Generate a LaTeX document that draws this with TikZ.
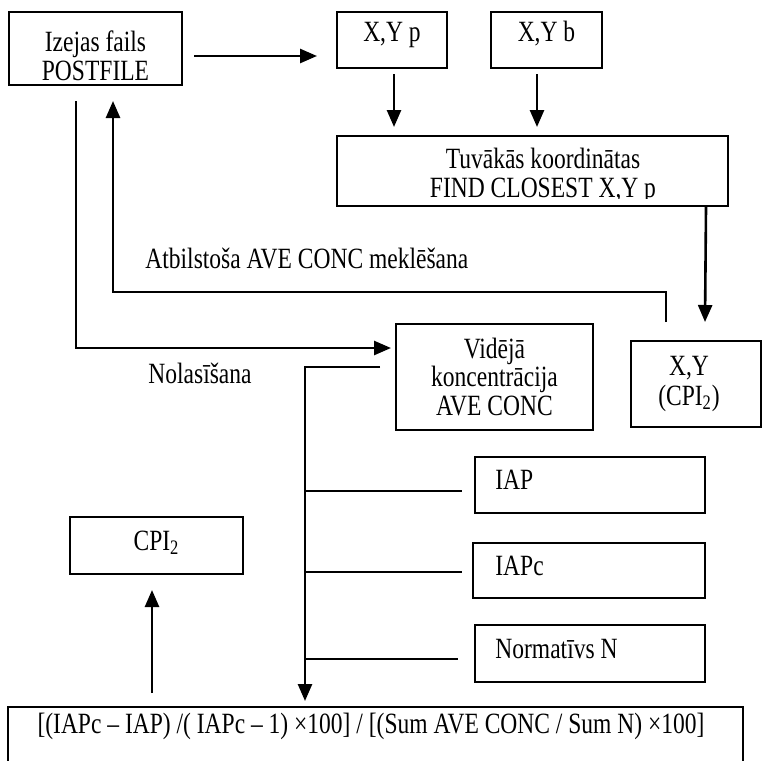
\documentclass[tikz,border=0pt]{standalone}
\usepackage{fontspec}
\setmainfont{Liberation Serif}[FakeStretch=0.8]
\usetikzlibrary{arrows.meta,calc,fit}

\begin{document}
\begin{tikzpicture}[x=0.5pt,y=-0.5pt,
  frame/.style={draw, line width=1pt, inner sep=0pt, fit={#1}},
  txt/.style={inner sep=0pt, anchor=base, font=\fontsize{14.7pt}{17pt}\selectfont},
  txtl/.style={txt, anchor=base west},
  arr/.style={line width=1.3pt, -{Triangle[length=8.5pt,width=7pt]}},
  branch/.style={line width=1pt}]

\useasboundingbox (0,0) rectangle (763,760);

% boxes
\node[frame={(9,12) (182,85)}]      (izejas) {};
\node[frame={(337,12) (447,68)}]    (xyp) {};
\node[frame={(491,12) (602,68)}]    (xyb) {};
\node[frame={(337,136) (728,206)}]  (tuvakas) {};
\node[frame={(631,341) (761,427)}]  (xycpi) {};
\node[frame={(396,324) (593,430)}]  (aveconc) {};
\node[frame={(475,457) (705,513)}]  (iap) {};
\node[frame={(473,543) (705,598)}]  (iapc) {};
\node[frame={(475,625) (705,682)}]  (normativs) {};
\node[frame={(70,517) (243,574)}]   (cpi) {};
\node[frame={(8,707) (743,764)}]    (formula) {};

% box texts
\node[txt, text depth=0pt] (izejas-l1) at (95.5,51) {Izejas fails};
\node[txt] (izejas-l2) at (95.5,80) {POSTFILE};
\node[txt] (xyp-t) at (392,41) {X,Y p};
\node[txt] (xyb-t) at (546.5,41) {X,Y b};
\node[txt] (tuvakas-l1) at (543,168) {Tuvākās koordinātas};
\begin{scope}
  \clip (337,136) rectangle (728,198);
  \node[txt] (tuvakas-l2) at (543,197) {FIND CLOSEST X,Y p};
\end{scope}
\node[txt] (xycpi-l1) at (689,375) {X,Y};
\node[txt] (xycpi-l2) at (689,405) {(CPI\textsubscript{2})};
\node[txt] (aveconc-l1) at (494.5,358) {Vidējā};
\node[txt] (aveconc-l2) at (494.5,386) {koncentrācija};
\node[txt] (aveconc-l3) at (494.5,415) {AVE CONC};
\node[txtl] (iap-t) at (495,489) {IAP};
\node[txtl] (iapc-t) at (495,575) {IAPc};
\node[txtl] (normativs-t) at (495,658) {Normatīvs N};
\node[txt] (cpi-t) at (156.5,550) {CPI\textsubscript{2}};
\node[txt] (formula-t) at (371,733) {[(IAPc – IAP) /( IAPc – 1) ×100] / [(Sum AVE CONC / Sum N) ×100]};

% free labels
\node[txtl] (lbl-search) at (145,268) {Atbilstoša AVE CONC meklēšana};
\node[txtl] (lbl-read) at (148,383) {Nolasīšana};

% connectors
\draw[arr] ($(izejas.east)+(11,7.5)$) -- ($(xyp.west)+(-19,16)$);
\draw[arr] ($(xyp.south)+(2,5)$) -- ($(xyp.south |- tuvakas.north)+(2,-8)$);
\draw[arr] ($(xyb.south)+(-9.5,5)$) -- ($(xyb.south |- tuvakas.north)+(-9.5,-8)$);
\draw[arr] ($(tuvakas.south east)+(-23,0)$) -- ($(xycpi.north)+(9,-18)$);
\draw[arr] ($(xycpi.north west)+(36,-18)$) |- ($(izejas.south)+(17.5,206)$)
           -- ($(izejas.south)+(17.5,15)$);
\draw[arr] ($(izejas.south)+(-19.5,15)$) |- ($(aveconc.west)+(-4,-29)$);
\draw[arr] ($(aveconc.west)+(-15,-10)$) -| ($(formula.north)+(-70.5,-5)$);
\draw[branch] ($(iap.west)+(-170,6)$) -- ($(iap.west)+(-12,6)$);
\draw[branch] ($(iapc.west)+(-168,1.5)$) -- ($(iapc.west)+(-10,1.5)$);
\draw[branch] ($(normativs.west)+(-170,5.5)$) -- ($(normativs.west)+(-16,5.5)$);
\draw[arr] ($(cpi.south)+(-4.5,118)$) -- ($(cpi.south)+(-4.5,15)$);

\end{tikzpicture}
\end{document}
